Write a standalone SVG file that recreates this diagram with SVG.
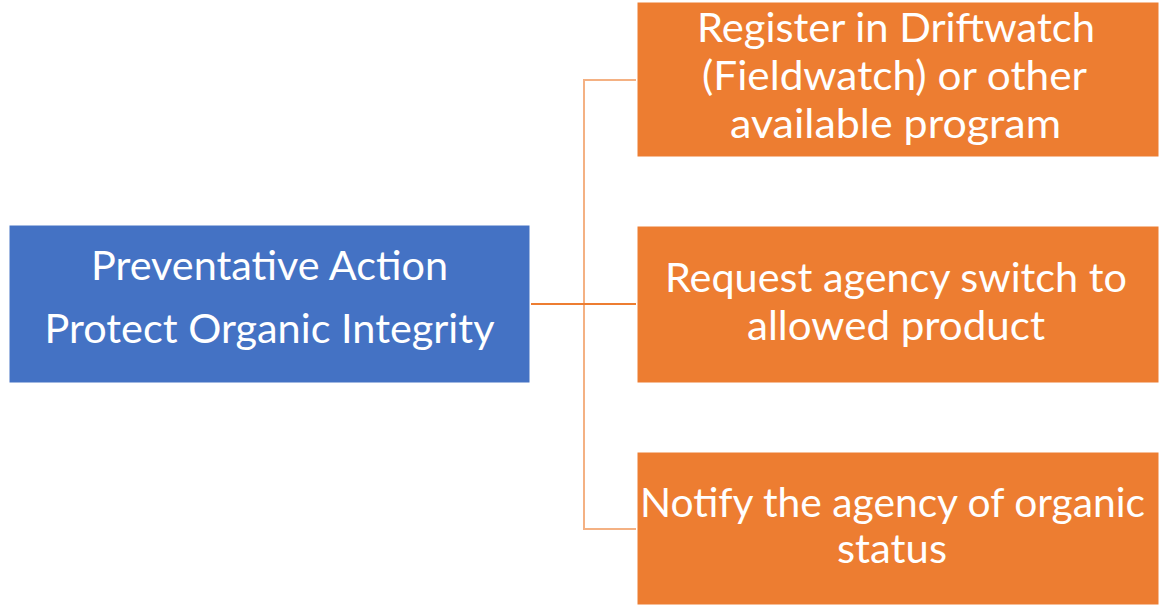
<svg xmlns="http://www.w3.org/2000/svg" width="1161" height="605" viewBox="0 0 1161 605">
  <style>
    .root { fill: #4472C4; stroke: #ffffff; stroke-width: 1; }
    .leaf { fill: #ED7D31; stroke: #ffffff; stroke-width: 1; }
    .label { font-family: Lato, "Open Sans", "Liberation Sans", sans-serif; font-size: 40px; fill: #ffffff; text-anchor: middle; }
    .link { fill: none; stroke: #F4B183; stroke-width: 2; }
    .link-main { fill: none; stroke: #ED7D31; stroke-width: 2; }
  </style>
  <rect width="1161" height="605" fill="#ffffff"/>

  <g id="connectors">
    <path class="link" d="M636 80 H584 V529 H636"/>
    <path class="link-main" d="M531 304 H636"/>
  </g>

  <g id="node-preventative-action">
    <rect class="root" x="9" y="225" width="521" height="158"/>
    <text class="label" x="269.5" y="280" textLength="357" lengthAdjust="spacingAndGlyphs">Preventative Action</text>
    <text class="label" x="269.5" y="343" textLength="450" lengthAdjust="spacingAndGlyphs">Protect Organic Integrity</text>
  </g>

  <g id="node-register">
    <rect class="leaf" x="637" y="2" width="522" height="155"/>
    <text class="label" x="896" y="42" textLength="398" lengthAdjust="spacingAndGlyphs">Register in Driftwatch</text>
    <text class="label" x="894.5" y="90" textLength="385" lengthAdjust="spacingAndGlyphs">(Fieldwatch) or other</text>
    <text class="label" x="895.5" y="138" textLength="331" lengthAdjust="spacingAndGlyphs">available program</text>
  </g>

  <g id="node-request-switch">
    <rect class="leaf" x="637" y="226" width="522" height="157"/>
    <text class="label" x="896" y="292" textLength="462" lengthAdjust="spacingAndGlyphs">Request agency switch to</text>
    <text class="label" x="896" y="340" textLength="298" lengthAdjust="spacingAndGlyphs">allowed product</text>
  </g>

  <g id="node-notify">
    <rect class="leaf" x="637" y="452" width="522" height="153"/>
    <text class="label" x="892.5" y="517" textLength="505" lengthAdjust="spacingAndGlyphs">Notify the agency of organic</text>
    <text class="label" x="892" y="563" textLength="110" lengthAdjust="spacingAndGlyphs">status</text>
  </g>
</svg>
